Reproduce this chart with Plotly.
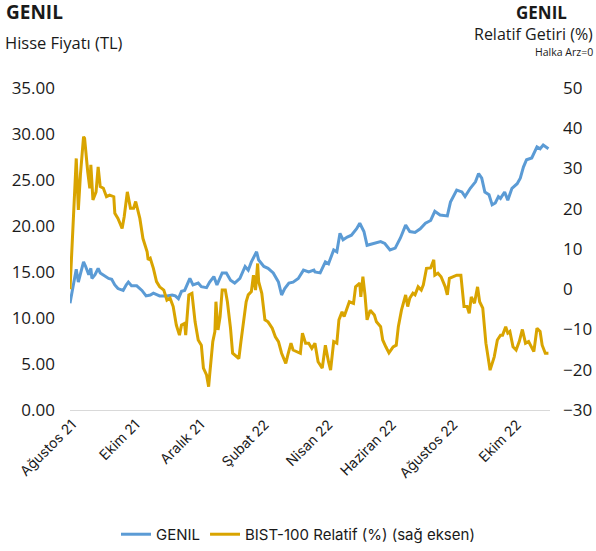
import plotly.graph_objects as go

# Days since listing (halka arz) for GENIL price readings
genil_days = [0, 6, 8, 10, 13, 15, 18, 20, 21, 24, 27, 29, 34, 37, 40, 43, 46, 51, 54, 56, 59, 64, 69, 73, 77, 80,
              86, 93, 98, 101, 104, 107, 110, 114, 115, 118, 123, 126, 131, 134, 138, 141, 146, 150, 154, 158, 163,
              168, 171, 174, 179, 181, 186, 190, 195, 200, 203, 206, 210, 214, 219, 224, 229, 234, 235, 240, 245,
              248, 253, 256, 259, 262, 266, 270, 275, 278, 282, 285, 291, 298, 302, 307, 312, 317, 322, 326, 331,
              336, 341, 346, 350, 355, 362, 365, 371, 376, 379, 384, 389, 392, 395, 398, 402, 405, 408, 411, 413,
              417, 420, 424, 429, 432, 435, 438, 443, 448, 451, 454, 459]
genil_price = [11.6, 15.3, 13.9, 14.7, 16.1, 15.6, 14.7, 15.4, 14.3, 14.7, 15.4, 14.9, 14.5, 14.3, 14.2, 13.6, 13.2,
               13.0, 13.6, 13.9, 13.5, 13.5, 13.0, 12.4, 12.5, 12.7, 12.4, 12.4, 12.5, 12.4, 12.1, 12.9, 13.0, 14.1,
               14.3, 13.6, 13.8, 13.4, 13.3, 13.9, 14.5, 13.6, 14.9, 14.9, 14.1, 13.8, 14.3, 15.6, 15.2, 16.1, 17.2,
               16.3, 15.6, 15.4, 14.9, 13.9, 12.5, 13.2, 13.8, 13.9, 14.3, 15.2, 15.0, 15.2, 15.0, 14.9, 16.1, 15.9,
               17.4, 17.2, 19.2, 18.5, 18.8, 19.0, 19.7, 20.3, 19.4, 17.9, 18.1, 18.3, 18.1, 17.4, 17.6, 18.7, 20.1,
               19.4, 19.3, 19.7, 20.3, 20.6, 21.6, 21.2, 21.1, 22.6, 23.9, 23.7, 23.2, 24.1, 24.8, 25.7, 25.2, 23.7,
               23.4, 22.3, 22.5, 23.2, 23.0, 23.7, 22.8, 24.1, 24.6, 25.2, 26.4, 27.2, 27.4, 28.6, 28.4, 28.8, 28.4]

# Days since listing for BIST-100 relative return readings
rel_days = [0, 2, 6, 8, 10, 13, 14, 17, 19, 20, 22, 25, 27, 29, 32, 35, 38, 42, 43, 46, 50, 52, 55, 58, 61, 63, 67,
            70, 74, 75, 77, 80, 83, 86, 90, 93, 96, 99, 102, 105, 107, 110, 111, 114, 117, 120, 123, 126, 128, 131,
            133, 134, 137, 139, 140, 142, 144, 146, 149, 151, 154, 156, 158, 162, 164, 166, 169, 171, 174, 176, 178,
            180, 181, 184, 187, 190, 194, 197, 200, 203, 207, 209, 212, 214, 218, 221, 223, 226, 229, 232, 235, 238,
            242, 245, 248, 250, 253, 256, 258, 261, 263, 266, 268, 272, 274, 278, 279, 281, 283, 285, 288, 292, 294,
            298, 300, 303, 306, 310, 313, 315, 318, 322, 324, 326, 329, 331, 334, 337, 339, 342, 346, 349, 350, 353,
            356, 360, 362, 364, 368, 371, 375, 378, 381, 383, 385, 388, 391, 393, 396, 399, 402, 403, 407, 410, 413,
            415, 418, 420, 422, 425, 428, 431, 434, 437, 440, 443, 445, 448, 451, 453, 456, 459]
rel_return = [0.0, 11.8, 32.5, 19.7, 28.4, 37.9, 37.5, 29.2, 25.1, 30.9, 22.2, 24.2, 30.4, 25.5, 25.1, 23.0, 23.4,
              23.0, 18.9, 17.6, 15.1, 18.0, 24.2, 20.1, 20.1, 21.8, 17.6, 12.6, 9.3, 7.3, 7.7, 5.2, 1.9, 0.6, -0.2,
              -2.7, -2.2, -4.3, -8.9, -11.4, -8.9, -8.5, -11.4, -1.4, -1.0, -8.1, -12.6, -13.9, -19.6, -21.3, -24.2,
              -21.3, -13.0, -10.5, -3.1, -10.1, -6.8, -0.2, -0.2, -3.1, -9.7, -15.9, -16.3, -17.2, -13.0, -8.9, -3.1,
              -1.4, -0.6, 3.5, -0.2, 6.4, 1.9, -1.0, -7.6, -8.1, -9.7, -11.8, -13.0, -15.9, -18.4, -16.3, -13.4,
              -15.1, -15.5, -15.9, -10.9, -13.4, -13.4, -14.7, -13.4, -18.0, -19.6, -13.9, -18.0, -20.1, -13.0, -13.4,
              -7.6, -5.6, -6.8, -4.7, -3.1, -3.5, 0.6, 1.5, -1.9, 3.1, -1.4, -7.6, -5.2, -6.4, -8.1, -9.3, -12.6,
              -14.3, -15.8, -14.3, -13.9, -9.3, -5.2, -1.4, -4.3, -2.2, -1.0, -1.4, 0.6, -0.2, 1.1, 5.2, 5.3, 7.3,
              3.5, 4.0, 3.1, 0.6, -1.4, 2.7, 3.1, 3.5, 3.5, -4.3, -4.3, -6.0, -1.9, -3.5, 0.6, -3.1, -4.7, -13.4,
              -18.4, -20.1, -16.8, -12.6, -11.4, -11.4, -9.3, -10.9, -10.5, -14.3, -15.1, -13.0, -10.0, -13.4, -13.0,
              -14.7, -15.5, -9.7, -10.5, -13.9, -15.9, -15.9]

tick_days = [2, 63, 125, 187, 248, 309, 368, 429]
tick_labels = ["Ağustos 21", "Ekim 21", "Aralık 21", "Şubat 22", "Nisan 22", "Haziran 22", "Ağustos 22", "Ekim 22"]

BLUE = "#5B9BD5"
GOLD = "#D9A400"
TXT = "#1a1a1a"

fig = go.Figure()
fig.add_trace(go.Scatter(x=genil_days, y=genil_price, name="GENIL", mode="lines",
                         line=dict(color=BLUE, width=3), yaxis="y"))
fig.add_trace(go.Scatter(x=rel_days, y=rel_return, name="BIST-100 Relatif (%) (sağ eksen)", mode="lines",
                         line=dict(color=GOLD, width=3), yaxis="y2"))

fig.update_layout(
    width=596, height=551,
    margin=dict(l=70, r=46, t=88, b=141, autoexpand=False),
    paper_bgcolor="white", plot_bgcolor="white",
    font=dict(family="Open Sans", color=TXT),
    showlegend=True,
    legend=dict(orientation="h", x=0.5, xanchor="center", xref="container", y=0.03, yanchor="middle",
                yref="container", font=dict(family="Inter", size=15, color=TXT), itemwidth=30,
                traceorder="normal"),
    xaxis=dict(range=[0, 460.5], tickmode="array", tickvals=tick_days, ticktext=tick_labels,
               tickangle=-45, tickfont=dict(family="Inter", size=14, color=TXT), automargin=False,
               showgrid=False, zeroline=False, showline=True, linecolor="#d9d9d9", linewidth=1,
               ticks=""),
    yaxis=dict(range=[0, 35], dtick=5, tickformat=".2f", showgrid=False, zeroline=False, automargin=False,
               tickfont=dict(family="Open Sans", size=17, color=TXT), ticklabelstandoff=14),
    yaxis2=dict(range=[-30, 50], dtick=10, overlaying="y", side="right", showgrid=False, automargin=False,
                zeroline=False, tickfont=dict(family="Open Sans", size=17, color=TXT),
                ticklabelstandoff=12),
    annotations=[
        dict(text="<b>GENIL</b>", xref="paper", yref="paper", x=-0.137, y=1.235, xanchor="left",
             yanchor="middle", showarrow=False, font=dict(family="Open Sans", size=19, color=TXT)),
        dict(text="Hisse Fiyatı (TL)", xref="paper", yref="paper", x=-0.139, y=1.14, xanchor="left",
             yanchor="middle", showarrow=False, font=dict(family="Open Sans", size=16.5, color=TXT)),
        dict(text="<b>GENIL</b>", xref="paper", yref="paper", x=0.983, y=1.236, xanchor="center",
             yanchor="middle", showarrow=False, font=dict(family="Open Sans", size=17, color=TXT)),
        dict(text="Relatif Getiri (%)", xref="paper", yref="paper", x=1.094, y=1.168, xanchor="right",
             yanchor="middle", showarrow=False, font=dict(family="Open Sans", size=16, color=TXT)),
        dict(text="Halka Arz=0", xref="paper", yref="paper", x=1.094, y=1.112, xanchor="right",
             yanchor="middle", showarrow=False, font=dict(family="Open Sans", size=10.5, color=TXT)),
    ],
)

fig.write_html("out.html", config={"displayModeBar": False},
               post_script="document.body.style.margin='0px';")
